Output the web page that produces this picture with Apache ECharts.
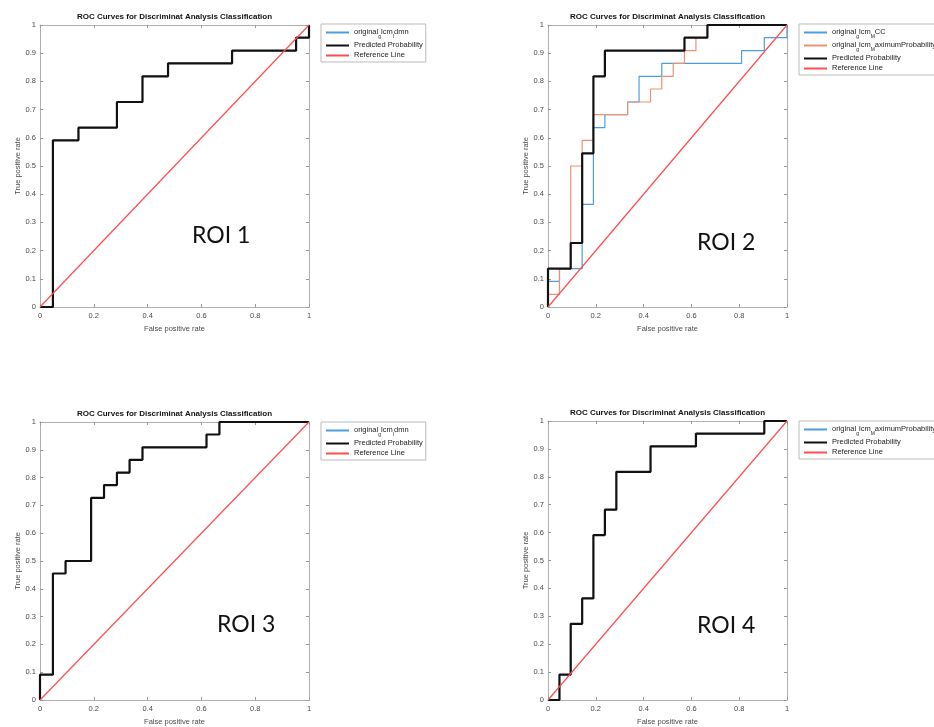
<!DOCTYPE html>
<html>
<head>
<meta charset="utf-8">
<script src="https://cdn.jsdelivr.net/npm/echarts@6/dist/echarts.min.js"></script>
<style>html,body{margin:0;padding:0;background:#fff;}#c{width:934px;height:727px;}</style>
</head>
<body>
<div id="c"></div>
<script>
// ---- data ----
const xTicks = [0, 0.2, 0.4, 0.6, 0.8, 1];
const yTicks = [0, 0.1, 0.2, 0.3, 0.4, 0.5, 0.6, 0.7, 0.8, 0.9, 1];
const refX = [0, 1];
const refY = [0, 1];

// ROI 1
const fpr1 = [0, 0.048, 0.048, 0.143, 0.143, 0.286, 0.286, 0.381, 0.381, 0.476, 0.476, 0.714, 0.714, 0.952, 0.952, 1, 1];
const tpr1 = [0, 0, 0.591, 0.591, 0.636, 0.636, 0.727, 0.727, 0.818, 0.818, 0.864, 0.864, 0.909, 0.909, 0.955, 0.955, 1];

// ROI 2
const fpr2mcc = [0, 0, 0.048, 0.048, 0.143, 0.143, 0.190, 0.190, 0.238, 0.238, 0.333, 0.333, 0.381, 0.381, 0.476, 0.476, 0.810, 0.810, 0.905, 0.905, 1, 1];
const tpr2mcc = [0, 0.091, 0.091, 0.136, 0.136, 0.364, 0.364, 0.636, 0.636, 0.682, 0.682, 0.727, 0.727, 0.818, 0.818, 0.864, 0.864, 0.909, 0.909, 0.955, 0.955, 1];
const fpr2max = [0, 0, 0.048, 0.048, 0.095, 0.095, 0.143, 0.143, 0.190, 0.190, 0.333, 0.333, 0.429, 0.429, 0.476, 0.476, 0.524, 0.524, 0.571, 0.571, 0.619, 0.619, 0.667, 0.667, 1];
const tpr2max = [0, 0.045, 0.045, 0.136, 0.136, 0.5, 0.5, 0.591, 0.591, 0.682, 0.682, 0.727, 0.727, 0.773, 0.773, 0.818, 0.818, 0.864, 0.864, 0.909, 0.909, 0.955, 0.955, 1, 1];
const fpr2 = [0, 0, 0.095, 0.095, 0.143, 0.143, 0.190, 0.190, 0.238, 0.238, 0.571, 0.571, 0.667, 0.667, 1];
const tpr2 = [0, 0.136, 0.136, 0.227, 0.227, 0.545, 0.545, 0.818, 0.818, 0.909, 0.909, 0.955, 0.955, 1, 1];

// ROI 3
const fpr3 = [0, 0, 0.048, 0.048, 0.095, 0.095, 0.190, 0.190, 0.238, 0.238, 0.286, 0.286, 0.333, 0.333, 0.381, 0.381, 0.619, 0.619, 0.667, 0.667, 1];
const tpr3 = [0, 0.091, 0.091, 0.455, 0.455, 0.5, 0.5, 0.727, 0.727, 0.773, 0.773, 0.818, 0.818, 0.864, 0.864, 0.909, 0.909, 0.955, 0.955, 1, 1];

// ROI 4
const fpr4 = [0, 0.048, 0.048, 0.095, 0.095, 0.143, 0.143, 0.190, 0.190, 0.238, 0.238, 0.286, 0.286, 0.429, 0.429, 0.619, 0.619, 0.905, 0.905, 1];
const tpr4 = [0, 0, 0.091, 0.091, 0.273, 0.273, 0.364, 0.364, 0.591, 0.591, 0.682, 0.682, 0.818, 0.818, 0.909, 0.909, 0.955, 0.955, 1, 1];

const titleText = 'ROC Curves for Discriminat Analysis Classification';
const xName = 'False positive rate';
const yName = 'True positive rate';
const roiLabels = ['ROI 1', 'ROI 2', 'ROI 3', 'ROI 4'];
const predName = 'Predicted Probability';
const refName = 'Reference Line';

// ---- styling / layout ----
const FONT = 'Liberation Sans';
const C_BLUE = '#4a9ee0', C_ORANGE = '#ee9170', C_BLACK = '#111', C_RED = '#ff4d4d';
const grids = [
  {left: 40, top: 25, width: 269, height: 282},
  {left: 548, top: 25, width: 239, height: 282},
  {left: 40, top: 422, width: 269, height: 282},
  {left: 548, top: 421, width: 239, height: 282}
];

function zip(xs, ys) { return xs.map((x, i) => [x, ys[i]]); }
function fmt(v) { return (v === 0 || v === 1) ? String(v) : v.toFixed(1); }

const xAxes = [], yAxes = [], series = [], titles = [], legends = [], graphics = [];

const panels = [
  {curves: [{name: '1:original_glcm_Idmn', x: fpr1, y: tpr1, color: C_BLUE}]},
  {curves: [{name: '2:original_glcm_MCC', x: fpr2mcc, y: tpr2mcc, color: C_BLUE},
            {name: '2:original_glcm_MaximumProbability', x: fpr2max, y: tpr2max, color: C_ORANGE}]},
  {curves: [{name: '3:original_glcm_Idmn', x: fpr3, y: tpr3, color: C_BLUE}]},
  {curves: [{name: '4:original_glcm_MaximumProbability', x: fpr4, y: tpr4, color: C_BLUE}]}
];
const predData = [[fpr1, tpr1], [fpr2, tpr2], [fpr3, tpr3], [fpr4, tpr4]];
const roiPos = [[192, 238], [697, 245], [217, 627], [697, 628]];
const legendPos = [[321, 24], [799, 24], [321, 422], [799, 421]];
const titleTop = [13, 13, 410, 409];

grids.forEach((g, i) => {
  const axisCommon = {
    type: 'value', min: 0, max: 1, gridIndex: i,
    axisLine: {show: true, onZero: false, lineStyle: {color: '#b0b0b0', width: 1}},
    axisTick: {show: true, inside: true, length: 3, lineStyle: {color: '#999'}},
    splitLine: {show: false}
  };
  xAxes.push(Object.assign({}, axisCommon, {
    position: 'bottom', interval: 0.2,
    axisLabel: {fontFamily: FONT, fontSize: 7.5, color: '#4a4a4a', margin: 5, formatter: fmt},
    name: xName, nameLocation: 'middle', nameGap: 18,
    nameTextStyle: {fontFamily: FONT, fontSize: 7.5, color: '#4a4a4a'}
  }));
  xAxes.push(Object.assign({}, axisCommon, {position: 'top', interval: 0.2, axisLabel: {show: false}}));
  yAxes.push(Object.assign({}, axisCommon, {
    position: 'left', interval: 0.1,
    axisLabel: {fontFamily: FONT, fontSize: 7.5, color: '#4a4a4a', margin: 4, formatter: fmt},
    name: yName, nameLocation: 'middle', nameGap: 18,
    nameTextStyle: {fontFamily: FONT, fontSize: 7.5, color: '#4a4a4a'}
  }));
  yAxes.push(Object.assign({}, axisCommon, {position: 'right', interval: 0.1, axisLabel: {show: false}}));

  const names = [];
  panels[i].curves.forEach(c => {
    names.push(c.name);
    series.push({type: 'line', name: c.name, xAxisIndex: 2 * i, yAxisIndex: 2 * i,
      data: zip(c.x, c.y), symbol: 'none', clip: false, animation: false,
      lineStyle: {color: c.color, width: 1.2}, itemStyle: {color: c.color}, z: 2});
  });
  const pn = (i + 1) + ':' + predName, rn = (i + 1) + ':' + refName;
  names.push(pn, rn);
  series.push({type: 'line', name: pn, xAxisIndex: 2 * i, yAxisIndex: 2 * i,
    data: zip(predData[i][0], predData[i][1]), symbol: 'none', clip: false, animation: false,
    lineStyle: {color: C_BLACK, width: 2.2}, itemStyle: {color: C_BLACK}, z: 3});
  series.push({type: 'line', name: rn, xAxisIndex: 2 * i, yAxisIndex: 2 * i,
    data: zip(refX, refY), symbol: 'none', clip: false, animation: false,
    lineStyle: {color: C_RED, width: 1.2}, itemStyle: {color: C_RED}, z: 4});

  titles.push({text: titleText, left: g.left + g.width / 2, top: titleTop[i], textAlign: 'center', padding: 0,
    textStyle: {fontFamily: FONT, fontSize: 8, fontWeight: 'bold', color: '#111'}});

  legends.push({
    data: names, orient: 'vertical', left: legendPos[i][0], top: legendPos[i][1],
    itemWidth: 23, itemHeight: 8, itemGap: 2, selectedMode: false,
    itemStyle: {color: 'transparent', borderColor: 'transparent', borderWidth: 0, opacity: 0},
    padding: [4, 3, 3, 4], backgroundColor: '#fff', borderColor: '#bbb', borderWidth: 1, borderRadius: 0,
    formatter: function (name) {
      const raw = name.replace(/^\d:/, '');
      const parts = raw.split(/_(.)/);
      let out = '';
      parts.forEach((p, k) => {
        if (!p) return;
        out += (k % 2 === 1) ? '{s|' + p + '}' : '{n|' + p + '}';
      });
      return out;
    },
    textStyle: {fontFamily: FONT, fontSize: 7.5, color: '#222',
      rich: {
        n: {fontFamily: FONT, fontSize: 7.5, color: '#222', lineHeight: 9, verticalAlign: 'top'},
        s: {fontFamily: FONT, fontSize: 5, color: '#222', lineHeight: 5, verticalAlign: 'top', padding: [6, 0, 0, 0]}
      }}
  });

  graphics.push({type: 'text', left: roiPos[i][0], top: roiPos[i][1] - 14,
    style: {text: roiLabels[i], font: '23px Lato', fill: '#111'}});
});

const grid = grids.map(g => Object.assign({containLabel: false, show: false}, g));

const chart = echarts.init(document.getElementById('c'), null, {renderer: 'canvas'});
chart.setOption({
  animation: false,
  backgroundColor: '#fff',
  title: titles,
  legend: legends,
  grid: grid,
  xAxis: xAxes,
  yAxis: yAxes,
  series: series,
  graphic: graphics
});
</script>
</body>
</html>
